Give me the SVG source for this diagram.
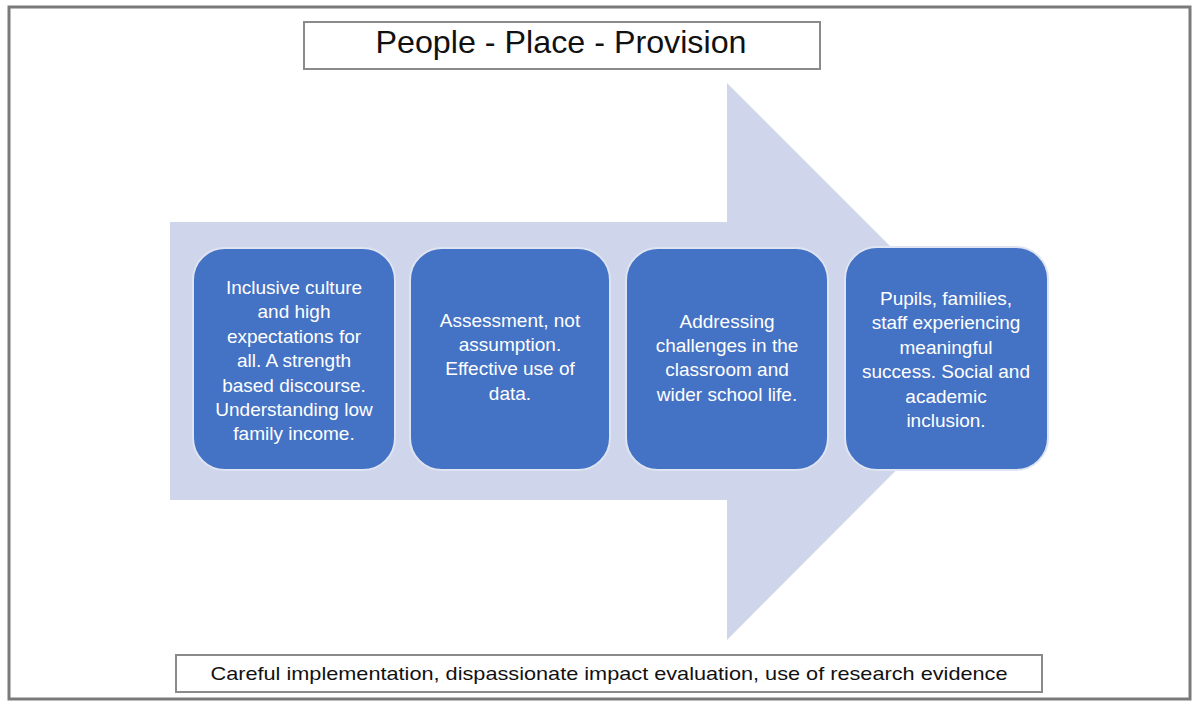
<svg xmlns="http://www.w3.org/2000/svg" width="1200" height="707" viewBox="0 0 1200 707">
  <style>
    .frame { fill: #ffffff; stroke: #7a7a7a; stroke-width: 3; }
    .label { fill: #ffffff; stroke: #8a8a8a; stroke-width: 2; }
    .step { fill: #4472C4; stroke: #dfe4f2; stroke-width: 2; }
    .steptext { font-family: "Liberation Sans", Arial, sans-serif; font-size: 19px; fill: #ffffff; text-anchor: middle; }
    .title { font-family: "Liberation Sans", Arial, sans-serif; font-size: 32px; fill: #111111; text-anchor: middle; }
    .foot { font-family: "Liberation Sans", Arial, sans-serif; font-size: 19px; fill: #111111; text-anchor: middle; }
  </style>
  <rect width="1200" height="707" fill="#ffffff"/>
  <rect id="frame" class="frame" x="9" y="7" width="1181" height="692"/>

  <g id="title">
    <rect class="label" x="304" y="22" width="516" height="47"/>
    <text class="title" x="561" y="53" textLength="371" lengthAdjust="spacingAndGlyphs">People - Place - Provision</text>
  </g>

  <g id="connectors">
    <polygon id="big-arrow" points="170,222 727,222 727,83 1005,361 727,640 727,500 170,500" fill="#CFD5EA"/>
  </g>

  <g id="step1">
    <rect class="step" x="193" y="248" width="202" height="222" rx="32"/>
    <text class="steptext" x="294" y="294">Inclusive culture</text>
    <text class="steptext" x="294" y="318">and high</text>
    <text class="steptext" x="294" y="343">expectations for</text>
    <text class="steptext" x="294" y="367">all. A strength</text>
    <text class="steptext" x="294" y="392">based discourse.</text>
    <text class="steptext" x="294" y="416">Understanding low</text>
    <text class="steptext" x="294" y="440">family income.</text>
  </g>

  <g id="step2">
    <rect class="step" x="410" y="248" width="200" height="222" rx="32"/>
    <text class="steptext" x="510" y="327">Assessment, not</text>
    <text class="steptext" x="510" y="351">assumption.</text>
    <text class="steptext" x="510" y="375">Effective use of</text>
    <text class="steptext" x="510" y="400">data.</text>
  </g>

  <g id="step3">
    <rect class="step" x="626" y="248" width="202" height="222" rx="32"/>
    <text class="steptext" x="727" y="328">Addressing</text>
    <text class="steptext" x="727" y="352">challenges in the</text>
    <text class="steptext" x="727" y="376">classroom and</text>
    <text class="steptext" x="727" y="401">wider school life.</text>
  </g>

  <g id="step4">
    <rect class="step" x="845" y="247" width="203" height="223" rx="32"/>
    <text class="steptext" x="946" y="305">Pupils, families,</text>
    <text class="steptext" x="946" y="329">staff experiencing</text>
    <text class="steptext" x="946" y="354">meaningful</text>
    <text class="steptext" x="946" y="378">success. Social and</text>
    <text class="steptext" x="946" y="403">academic</text>
    <text class="steptext" x="946" y="427">inclusion.</text>
  </g>

  <g id="footer">
    <rect class="label" x="176" y="655" width="866" height="37"/>
    <text class="foot" x="609" y="680" textLength="797" lengthAdjust="spacingAndGlyphs">Careful implementation, dispassionate impact evaluation, use of research evidence</text>
  </g>
</svg>
